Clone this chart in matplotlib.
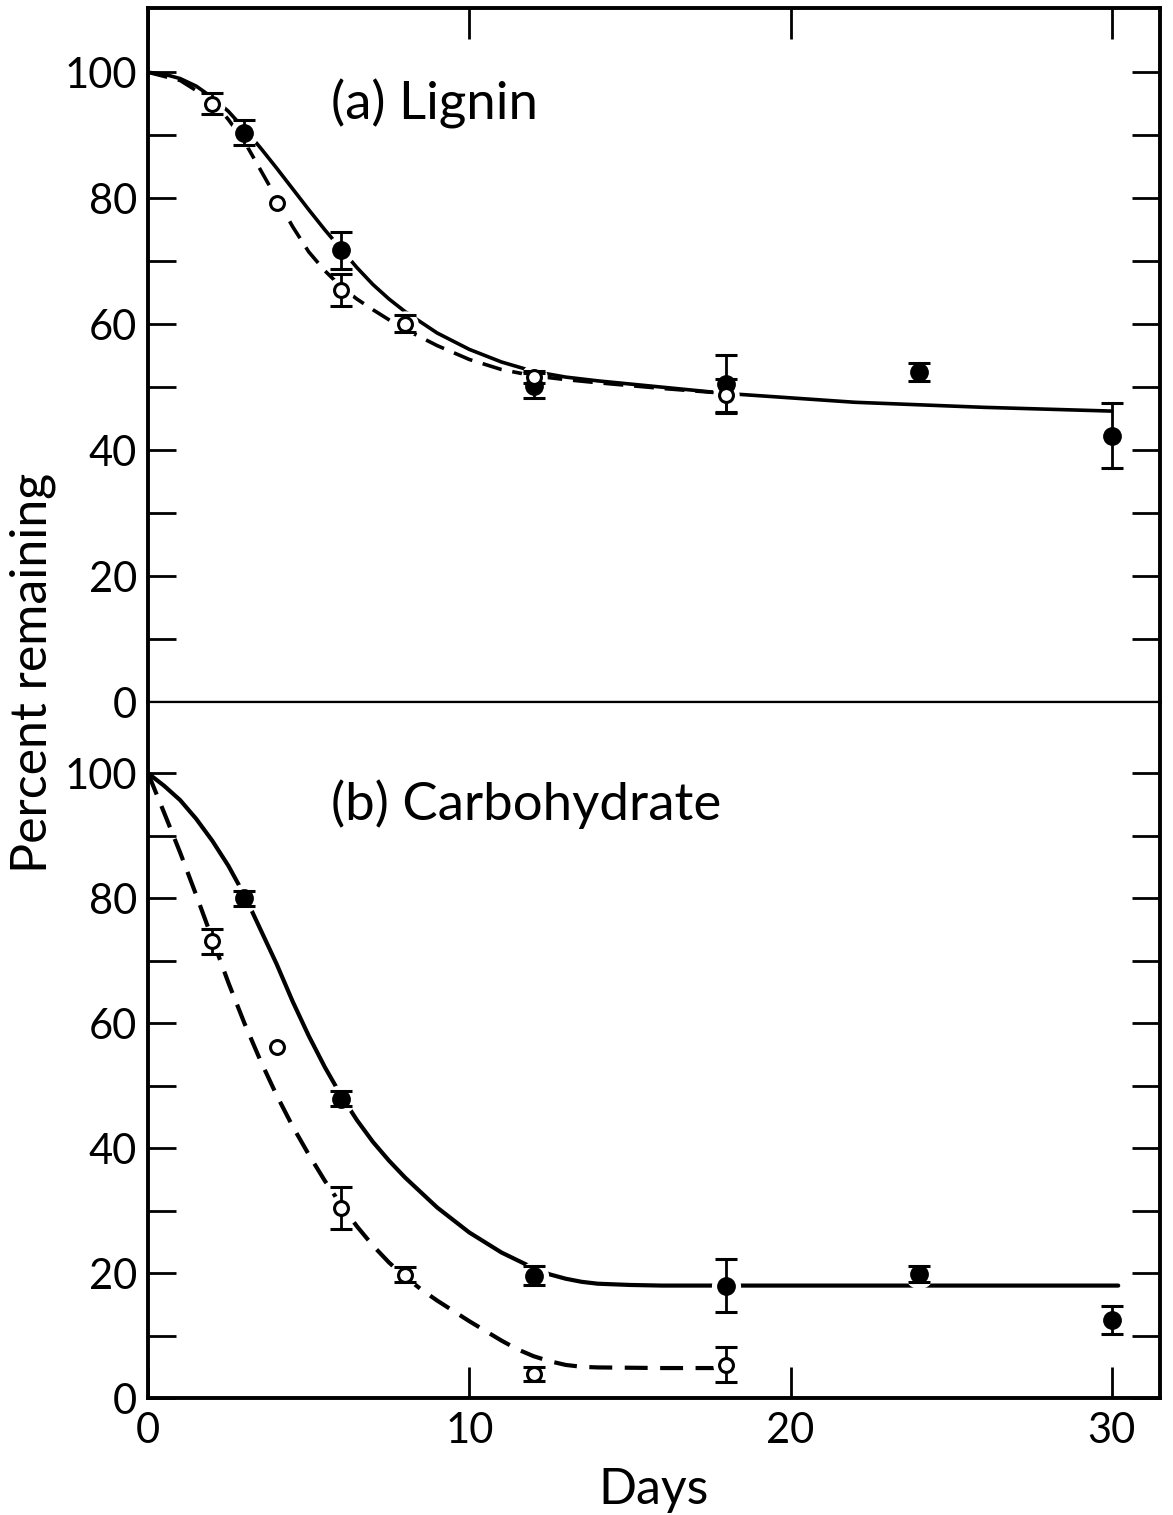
import numpy as np
import matplotlib.pyplot as plt

plt.rcParams['font.family'] = ['Lato', 'DejaVu Sans']

# (a) Lignin - measured points
lig_fill_days = [3, 6, 12, 18, 24, 30]
lig_fill_vals = [90.4, 71.7, 50.2, 50.5, 52.4, 42.3]
lig_fill_err = [2.0, 3.0, 2.0, 4.6, 1.5, 5.2]

lig_open_days = [2, 4, 6, 8, 12, 18]
lig_open_vals = [95.0, 79.2, 65.4, 60.1, 51.6, 48.7]
lig_open_err = [1.7, 0.0, 2.5, 1.3, 1.0, 2.6]

# (a) Lignin - fitted curves
lig_solid_days = [0, 0.5, 1, 1.5, 2, 2.5, 3, 3.5, 4, 4.5, 5, 5.5, 6, 6.5, 7, 7.5, 8, 9, 10,
                  11, 12, 13, 14, 16, 18, 20, 22, 24, 26, 28, 30]
lig_solid_vals = [100, 99.7, 99, 97.8, 96, 93.8, 91, 88, 84.8, 81.5, 78.2, 75, 72, 69, 66.3,
                  64, 62, 58.6, 56, 54, 52.5, 51.6, 51, 50, 49, 48.3, 47.6, 47.2, 46.8,
                  46.5, 46.2]
lig_dash_days = [0, 1, 2, 2.5, 3, 3.5, 4, 4.5, 5, 5.5, 6, 6.5, 7, 7.5, 8, 9, 10, 11, 12, 13,
                 14, 16, 18]
lig_dash_vals = [100, 98.7, 95.5, 92.5, 89, 84.5, 80, 75.5, 71.5, 68.5, 66, 64, 62.3, 60.7,
                 59.2, 56.6, 54.4, 52.8, 51.8, 51.2, 50.7, 49.8, 49.0]

# (b) Carbohydrate - measured points
carb_fill_days = [3, 6, 12, 18, 24, 30]
carb_fill_vals = [80.0, 47.9, 19.6, 18.0, 19.8, 12.5]
carb_fill_err = [1.2, 1.2, 1.5, 4.2, 1.3, 2.3]

carb_open_days = [2, 4, 6, 8, 12, 18]
carb_open_vals = [73.1, 56.2, 30.4, 19.7, 3.8, 5.3]
carb_open_err = [2.0, 0.0, 3.3, 1.2, 1.1, 2.8]

# (b) Carbohydrate - fitted curves
carb_solid_days = [0, 0.5, 1, 1.5, 2, 2.5, 3, 3.5, 4, 4.5, 5, 5.5, 6, 6.5, 7, 7.5, 8, 9,
                   10, 11, 12, 12.5, 13, 13.5, 14, 15, 16, 18, 30.2]
carb_solid_vals = [100, 98, 95.7, 92.7, 89.2, 85.2, 80.5, 75, 69.5, 63.5, 58, 53, 48.5,
                   44.5, 41, 38, 35.3, 30.5, 26.5, 23.3, 20.8, 19.8, 19.1, 18.6, 18.3,
                   18.1, 18.0, 18.0, 18.0]
carb_dash_days = [0, 0.5, 1, 1.5, 2, 2.5, 3, 3.5, 4, 4.5, 5, 5.5, 6, 6.5, 7, 7.5, 8, 8.5, 9,
                  10, 11, 11.5, 12, 12.5, 13, 13.5, 14, 16, 18]
carb_dash_vals = [100, 93.7, 87.3, 80.5, 73.5, 66.5, 60, 54, 48.5, 43.5, 39, 34.8, 31,
                  27.5, 24.4, 21.7, 19.4, 17.4, 15.6, 12.3, 9.2, 7.8, 6.7, 5.9, 5.3, 5.0,
                  4.9, 4.8, 4.8]

fig = plt.figure(figsize=(11.73, 15.15), dpi=100)
ax1 = fig.add_axes([0.1262, 0.5366, 0.8627, 0.4581])
ax2 = fig.add_axes([0.1262, 0.0772, 0.8627, 0.4594])


def draw_panel(ax, sd, sv, dd, dv, fd, fv, fe, od, ov, oe, lw):
    ax.plot(sd, sv, color='black', lw=lw, solid_capstyle='round',
            solid_joinstyle='round', zorder=2)
    ax.plot(dd, dv, color='black', lw=lw, dashes=(5.5, 3.0), zorder=2)

    # white halos so the curves break around the symbols
    ax.plot(fd, fv, 'o', ms=20, color='white', mec='white', zorder=3)
    ax.plot(od, ov, 'o', ms=18, color='white', mec='white', zorder=3)

    ax.errorbar(fd, fv, yerr=fe, fmt='o', ms=12.5, color='black', mfc='black',
                elinewidth=2.0, capsize=8, capthick=2.2, zorder=5)
    oerr = [e if e > 0 else np.nan for e in oe]
    ax.errorbar(od, ov, yerr=oerr, fmt='o', ms=10, color='black', mfc='white',
                mew=2.2, elinewidth=2.0, capsize=8, capthick=2.2, zorder=6)


draw_panel(ax1, lig_solid_days, lig_solid_vals, lig_dash_days, lig_dash_vals,
           lig_fill_days, lig_fill_vals, lig_fill_err,
           lig_open_days, lig_open_vals, lig_open_err, 2.6)
draw_panel(ax2, carb_solid_days, carb_solid_vals, carb_dash_days, carb_dash_vals,
           carb_fill_days, carb_fill_vals, carb_fill_err,
           carb_open_days, carb_open_vals, carb_open_err, 3.0)

ax1.set_ylim(0, 110.2)
ax2.set_ylim(0, 111.4)

for ax in (ax1, ax2):
    ax.set_xlim(0, 31.5)
    ax.set_yticks(np.arange(0, 101, 20))
    ax.set_yticks(np.arange(10, 91, 20), minor=True)
    ax.set_xticks([0, 10, 20, 30])
    ax.tick_params(axis='y', which='both', direction='in', length=20, width=2,
                   left=True, right=True, labelsize=30, pad=8)
    ax.tick_params(axis='x', which='both', direction='in', length=22, width=2,
                   labelsize=30, pad=10)
    for s in ax.spines.values():
        s.set_linewidth(2.8)

ax1.tick_params(axis='x', top=True, bottom=False, labelbottom=False)
ax2.tick_params(axis='x', top=False, bottom=True)
ax1.spines['bottom'].set_linewidth(1.6)
ax2.spines['top'].set_linewidth(1.6)

ax1.text(5.7, 95, '(a) Lignin', fontsize=38, va='center', ha='left')
ax2.text(5.7, 95, '(b) Carbohydrate', fontsize=38, va='center', ha='left')

ax2.set_xlabel('Days', fontsize=36, labelpad=12)
fig.text(0.028, 0.556, 'Percent remaining', rotation=90, fontsize=36,
         ha='center', va='center')

fig.savefig('out.png', dpi=100)
